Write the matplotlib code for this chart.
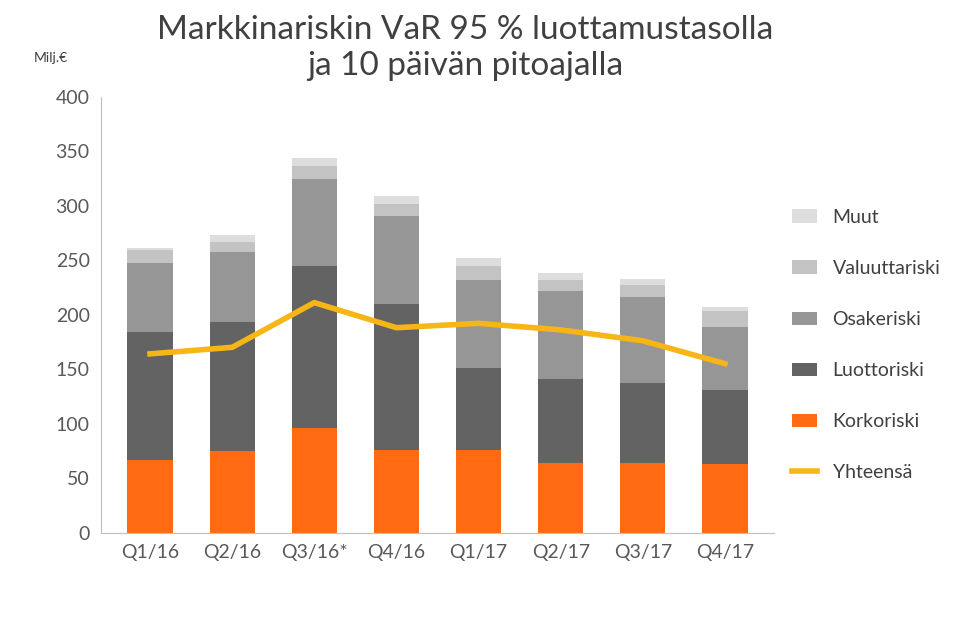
import matplotlib
matplotlib.use("Agg")
import matplotlib.pyplot as plt
import numpy as np

categories = ["Q1/16", "Q2/16", "Q3/16*", "Q4/16", "Q1/17", "Q2/17", "Q3/17", "Q4/17"]
korkoriski = [67, 75, 96, 76, 76, 64, 64, 63]
luottoriski = [117, 118, 149, 134, 75, 77, 73, 68]
osakeriski = [63, 64, 79, 80, 81, 81, 79, 58]
valuuttariski = [12, 10, 12, 11, 13, 10, 11, 14]
muut = [2, 6, 8, 8, 7, 6, 6, 4]
yhteensa = [164, 170, 211, 188, 192, 186, 176, 155]

plt.rcParams["font.family"] = "Lato"
fig = plt.figure(figsize=(9.69, 6.23), dpi=100)
ax = fig.add_axes([0.104, 0.145, 0.695, 0.7])
x = np.arange(len(categories))
w = 0.55
series = [(korkoriski, "#FF6A13", "Korkoriski"), (luottoriski, "#636363", "Luottoriski"),
          (osakeriski, "#969696", "Osakeriski"), (valuuttariski, "#C3C3C3", "Valuuttariski"),
          (muut, "#DDDDDD", "Muut")]
bottom = np.zeros(len(x))
handles = []
for vals, c, lab in series:
    b = ax.bar(x, vals, w, bottom=bottom, color=c, label=lab)
    bottom += np.array(vals)
    handles.append(b)
ln, = ax.plot(x, yhteensa, color="#F7B516", lw=4, label="Yhteensä")
ax.set_ylim(0, 400)
ax.set_xlim(-0.6, 7.6)
ax.set_yticks(range(0, 401, 50))
ax.set_xticks(x)
ax.set_xticklabels(categories)
ax.tick_params(axis="both", length=0, labelsize=14, colors="#595959", pad=8)
for s in ["top", "right"]:
    ax.spines[s].set_visible(False)
for s in ["left", "bottom"]:
    ax.spines[s].set_color("#BFBFBF")
leg = ax.legend(handles[::-1] + [ln], [h.get_label() for h in handles[::-1]] + ["Yhteensä"],
                loc="center left", bbox_to_anchor=(1.0, 0.43), frameon=False, fontsize=14,
                labelspacing=1.75, handlelength=1.3, labelcolor="#404040")
fig.text(0.48, 0.87, "Markkinariskin VaR 95 % luottamustasolla\nja 10 päivän pitoajalla",
         ha="center", va="bottom", fontsize=24, color="#404040", linespacing=1.25)
fig.text(0.035, 0.9, "Milj.€", fontsize=10, color="#404040")
fig.savefig("out.png", dpi=100)
